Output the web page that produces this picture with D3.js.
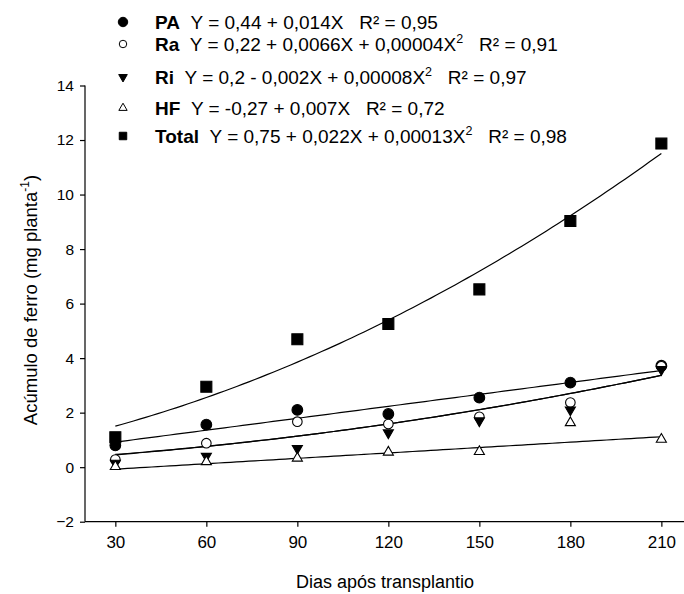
<!DOCTYPE html>
<html>
<head>
<meta charset="utf-8">
<script src="https://cdn.jsdelivr.net/npm/d3@7"></script>
<style>
  body { margin: 0; background: #fff; }
  text { font-family: Arial, "Liberation Sans", sans-serif; fill: #000; }
  .narrow { font-family: "Liberation Sans Narrow", "Arial Narrow", Arial, sans-serif; }
</style>
</head>
<body>
<div id="chart"></div>
<script>

//data
var dias = [30, 60, 90, 120, 150, 180, 210];
var pa = [0.80, 1.56, 2.10, 1.95, 2.55, 3.10, 3.72];
var ra = [0.28, 0.88, 1.67, 1.58, 1.85, 2.37, 3.70];
var ri = [0.15, 0.40, 0.69, 1.26, 1.70, 2.10, 3.58];
var hf = [0.02, 0.20, 0.33, 0.55, 0.57, 1.63, 1.02];
var total = [1.10, 2.95, 4.69, 5.25, 6.52, 9.03, 11.87];

//regression curves as drawn (a + bX + cX^2)
var fitPA = [0.48, 0.0146, 0];
var fitRa = [0.22, 0.0066, 0.00004];
var fitRi = [0.24, 0.0063, 0.000041];
var fitHF = [-0.27, 0.0066, 0];
var fitTotal = [0.70, 0.0227, 0.000137];

//legend texts
var legNames = ["PA", "Ra", "Ri", "HF", "Total"];
var legEq = [
  "Y = 0,44 + 0,014X",
  "Y = 0,22 + 0,0066X + 0,00004X",
  "Y = 0,2 - 0,002X + 0,00008X",
  "Y = -0,27 + 0,007X",
  "Y = 0,75 + 0,022X + 0,00013X"
];
var legSquared = [false, true, true, false, true];
var legR2 = ["R\u00b2 = 0,95", "R\u00b2 = 0,91", "R\u00b2 = 0,97", "R\u00b2 = 0,72", "R\u00b2 = 0,98"];

var xTicks = [30, 60, 90, 120, 150, 180, 210];
var yTicks = [-2, 0, 2, 4, 6, 8, 10, 12, 14];

var width = 684, height = 594;

var svg = d3.select("#chart").append("svg")
  .attr("width", width)
  .attr("height", height);

var x = d3.scaleLinear().domain([20, 220]).range([85, 691.7]);
var y = d3.scaleLinear().domain([-2, 14]).range([521.7, 85.5]);

//marker styles
var series = [
  {vals: pa, fit: fitPA, sym: d3.symbolCircle, size: 90, fill: "#000", rot: 0, lsize: 70},
  {vals: ra, fit: fitRa, sym: d3.symbolCircle, size: 72, fill: "#fff", rot: 0, lsize: 44},
  {vals: ri, fit: fitRi, sym: d3.symbolTriangle, size: 44, fill: "#000", rot: 180, lsize: 32},
  {vals: hf, fit: fitHF, sym: d3.symbolTriangle, size: 44, fill: "#fff", rot: 0, lsize: 30},
  {vals: total, fit: fitTotal, sym: d3.symbolSquare, size: 121, fill: "#000", rot: 0, lsize: 56}
];

//axes
var xAxis = d3.axisBottom(x).tickValues(xTicks).tickSize(5).tickPadding(9);
var yAxis = d3.axisLeft(y).tickValues(yTicks).tickSize(5).tickPadding(6);

var gx = svg.append("g")
  .attr("transform", "translate(0," + y(-2) + ")")
  .call(xAxis);
gx.select(".domain").attr("d", "M" + x(20) + ",0H" + width);
gx.selectAll("text").attr("class", "narrow").style("font-size", "17px");

var gy = svg.append("g")
  .attr("transform", "translate(" + x(20) + ",0)")
  .call(yAxis);
gy.select(".domain").attr("d", "M0," + y(14) + "V" + y(-2));
gy.selectAll("text").style("font-size", "15.5px");

svg.selectAll(".domain, .tick line").attr("stroke", "#000").attr("stroke-width", 1.2);

//axis titles
svg.append("text")
  .attr("class", "narrow")
  .attr("x", 385)
  .attr("y", 588)
  .attr("text-anchor", "middle")
  .style("font-size", "18px")
  .text("Dias após transplantio");

var yt = svg.append("text")
  .attr("transform", "translate(37,300) rotate(-90)")
  .attr("text-anchor", "middle")
  .style("font-size", "18.5px");
yt.append("tspan").text("Acúmulo de ferro (mg planta");
yt.append("tspan").attr("dy", -8).style("font-size", "12px").text("-1");
yt.append("tspan").attr("dy", 8).text(")");

//regression lines
var line = d3.line()
  .x(function(d) { return x(d[0]); })
  .y(function(d) { return y(d[1]); });

series.forEach(function(s) {
  var pts = d3.range(30, 210.5, 2).map(function(t) {
    return [t, s.fit[0] + s.fit[1] * t + s.fit[2] * t * t];
  });
  svg.append("path")
    .attr("d", line(pts))
    .attr("fill", "none")
    .attr("stroke", "#000")
    .attr("stroke-width", 1.2);
});

//points
series.forEach(function(s) {
  svg.append("g").selectAll("path")
    .data(s.vals)
    .enter().append("path")
    .attr("d", d3.symbol().type(s.sym).size(s.size))
    .attr("transform", function(d, i) {
      return "translate(" + x(dias[i]) + "," + y(d) + ") rotate(" + s.rot + ")";
    })
    .attr("fill", s.fill)
    .attr("stroke", "#000")
    .attr("stroke-width", 1.1);
});

//legend
var legY = [22, 44, 77, 108, 136];
var leg = svg.append("g");
series.forEach(function(s, i) {
  leg.append("path")
    .attr("d", d3.symbol().type(s.sym).size(s.lsize))
    .attr("transform", "translate(123," + legY[i] + ") rotate(" + s.rot + ")")
    .attr("fill", s.fill)
    .attr("stroke", "#000")
    .attr("stroke-width", 1);

  var t = leg.append("text")
    .attr("x", 155)
    .attr("y", legY[i] + 7)
    .style("font-size", "19px")
    .attr("xml:space", "preserve");
  t.append("tspan").style("font-weight", "bold").text(legNames[i]);
  t.append("tspan").text("\u00a0\u00a0" + legEq[i]);
  if (legSquared[i]) {
    t.append("tspan").attr("dy", -8).style("font-size", "12.5px").text("2");
    t.append("tspan").attr("dy", 8).text("\u00a0\u00a0\u00a0" + legR2[i]);
  } else {
    t.append("tspan").text("\u00a0\u00a0\u00a0" + legR2[i]);
  }
});

</script>
</body>
</html>
